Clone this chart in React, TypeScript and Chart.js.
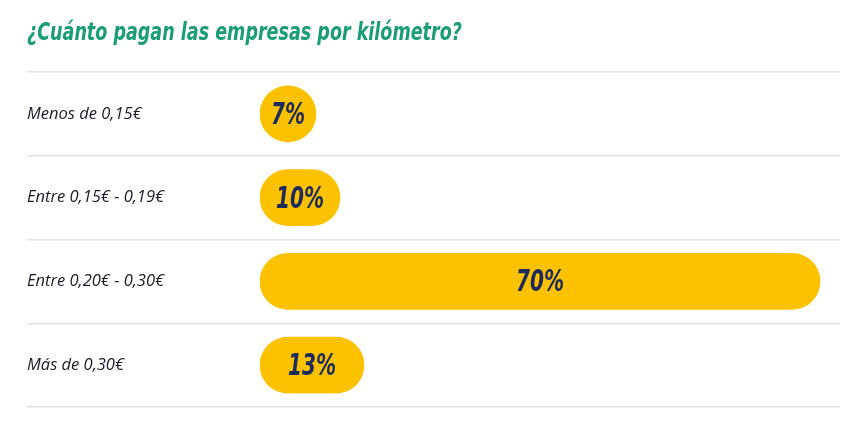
import { Chart, registerables } from "chart.js";
import { useEffect, useRef } from "react";

Chart.register(...registerables);

const title = "¿Cuánto pagan las empresas por kilómetro?";
const categories = [
  "Menos de 0,15€",
  "Entre 0,15€ - 0,19€",
  "Entre 0,20€ - 0,30€",
  "Más de 0,30€",
];
const shares = [7, 10, 70, 13];

const condensed = "'DejaVu Sans Condensed', 'DejaVu Sans', sans-serif";

// no narrow font is installed, so the heading and the bar labels are squeezed sideways
const drawNarrow = (ctx, text, x, y, squeeze) => {
  ctx.save();
  ctx.translate(x, y);
  ctx.scale(squeeze, 1);
  ctx.fillText(text, 0, 0);
  ctx.restore();
};

const heading = {
  id: "heading",
  afterDraw(chart) {
    const { ctx } = chart;
    ctx.save();
    ctx.fillStyle = "#1a9c78";
    ctx.font = `italic bold 25px ${condensed}`;
    ctx.textAlign = "left";
    ctx.textBaseline = "alphabetic";
    drawNarrow(ctx, title, 27, 40, 0.78);
    ctx.restore();
  },
};

// writes the percentage in the middle of each bar
const barLabels = {
  id: "barLabels",
  afterDatasetsDraw(chart) {
    const { ctx } = chart;
    const meta = chart.getDatasetMeta(0);
    ctx.save();
    ctx.fillStyle = "#1d2b5c";
    ctx.font = `italic bold 31px ${condensed}`;
    ctx.textAlign = "center";
    ctx.textBaseline = "middle";
    meta.data.forEach((bar, i) => {
      const { x, y, base } = bar.getProps(["x", "y", "base"], true);
      drawNarrow(ctx, `${shares[i]}%`, (x + base) / 2, y + 2, 0.72);
    });
    ctx.restore();
  },
};

const App = () => {
  const chartRef = useRef(null);
  const chartInstance = useRef(null);

  useEffect(() => {
    if (!chartRef.current) return;
    if (chartInstance.current) chartInstance.current.destroy();

    chartInstance.current = new Chart(chartRef.current.getContext("2d"), {
      type: "bar",
      data: {
        labels: categories,
        datasets: [
          {
            data: shares,
            backgroundColor: "#fcc200",
            borderRadius: 28,
            borderSkipped: false,
            barThickness: 56,
          },
        ],
      },
      options: {
        indexAxis: "y",
        animation: false,
        responsive: true,
        maintainAspectRatio: false,
        layout: { padding: { left: 27, right: 20, top: 72, bottom: 15 } },
        plugins: {
          legend: { display: false },
          tooltip: { enabled: false },
          title: { display: false },
        },
        scales: {
          x: { display: false, min: 0, max: 72.5 },
          y: {
            afterFit: (scale) => {
              scale.width = 233;
            },
            border: { display: false },
            grid: {
              offset: true,
              color: "#e4e2dd",
              lineWidth: 1.5,
              tickLength: 233,
            },
            ticks: {
              crossAlign: "far",
              padding: 0,
              color: "#1b1b2b",
              font: { family: "'Open Sans', sans-serif", size: 16.5, style: "italic" },
            },
          },
        },
      },
      plugins: [barLabels, heading],
    });

    return () => {
      if (chartInstance.current) {
        chartInstance.current.destroy();
        chartInstance.current = null;
      }
    };
  }, []);

  return (
    <div
      style={{
        position: "fixed",
        left: 0,
        top: 0,
        width: "860px",
        height: "422px",
        background: "#ffffff",
      }}
    >
      <canvas ref={chartRef}></canvas>
    </div>
  );
};

export default App;
